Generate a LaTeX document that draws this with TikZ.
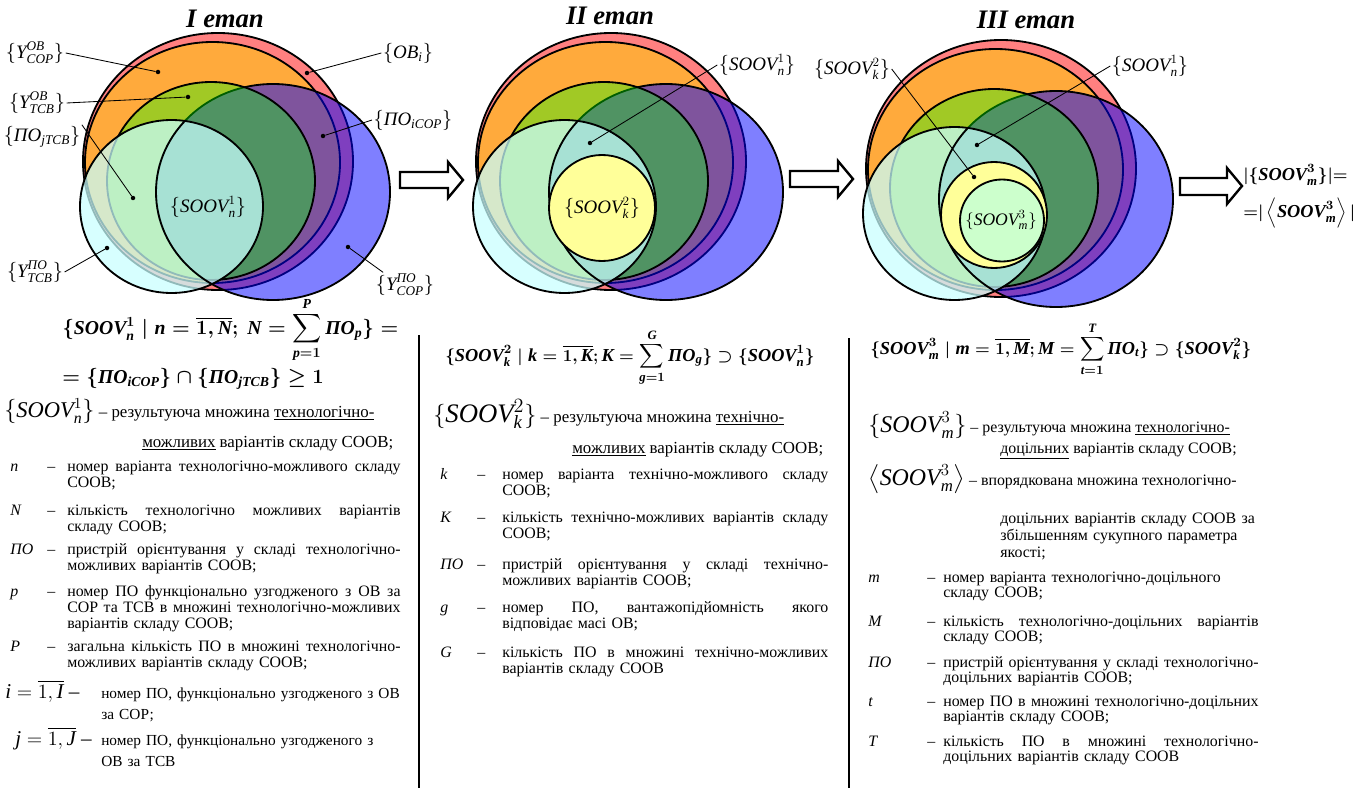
\documentclass[tikz,border=0pt]{standalone}
\usepackage{amsmath}
\usepackage{fontspec}
\setmainfont{Liberation Serif}

\definecolor{redset}{RGB}{255,128,128}
\definecolor{orangeset}{RGB}{255,170,60}
\definecolor{cyanset}{RGB}{200,255,255}
\definecolor{yellowset}{RGB}{255,255,153}
\definecolor{mintset}{RGB}{204,255,204}

\tikzset{
  venn/.style={draw=black, line width=1.3pt},
  setlbl/.style={inner sep=1pt, font=\fontsize{13.5}{15}\selectfont},
  lead/.style={line width=0.6pt},
  dotm/.style={circle, fill=black, inner sep=0pt, minimum size=3.2pt},
  blockarr/.style={draw=black, line width=1.7pt, fill=white, line join=miter},
  stage/.style={font=\fontsize{19}{22}\selectfont\bfseries\itshape},
  formula/.style={inner sep=0pt, font=\fontsize{13}{15}\selectfont\bfseries\boldmath},
  desc/.style={inner sep=0pt, font=\fontsize{12}{14}\selectfont},
  itemtxt/.style={inner sep=0pt, font=\fontsize{11.3}{11.7}\selectfont},
  itemtxtc/.style={inner sep=0pt, font=\fontsize{11.3}{11}\selectfont},
  colsep/.style={line width=1.4pt},
}

\newlength{\jlw}
\newcommand{\itv}[1]{\textit{#1}}
% a justified line, spaces spread to the row width
\newcommand{\jl}[1]{\leavevmode\hbox to\jlw{\spaceskip=0.25em plus 1fil\relax #1}\\}

% the common sets, local pixel coordinates
\newcommand{\vennbase}{%
  \draw[venn, fill=redset] (218,161.5) ellipse [x radius=135, y radius=128.5];
  \draw[venn, fill=orangeset] (212.5,162.5) ellipse [x radius=127.5, y radius=120.5];
  \draw[venn, fill=blue, fill opacity=0.5] (273,192) ellipse [x radius=117, y radius=108];
  \draw[venn, fill=green, fill opacity=0.37] (211,181) ellipse [x radius=104, y radius=99];
  \draw[venn, fill=cyanset, fill opacity=0.73] (171.5,206.5) ellipse [x radius=91.5, y radius=86.5];
  \begin{scope}
    \clip (171.5,206.5) ellipse [x radius=91.5, y radius=86.5];
    \draw[venn] (273,192) ellipse [x radius=117, y radius=108];
  \end{scope}
}

% one row of a legend: name, style, x symbol, x dash, x text, baseline, width, symbol, text
\newcommand{\entry}[9]{%
  \setlength{\jlw}{#7}%
  \node[#2, anchor=base west] (#1s) at (#3,#6) {#8};
  \node[#2, anchor=base west] (#1d) at (#4,#6) {–};
  \node[#2, anchor=base west, text width=#7] (#1t) at (#5,#6) {#9};
}

\begin{document}
\begin{tikzpicture}[x=0.025cm, y=-0.025cm]
\useasboundingbox (0,0) rectangle (1360,788);

% stage I
\vennbase
\node[stage] (titleI) at (225,19) {I етап};
\node[setlbl] (lsoovI) at (208,207) {$\{\itv{SOOV}^{1}_{\itv{n}}\}$};
\node[dotm] (pOrange) at (158,72) {};
\node[dotm] (pRed) at (307,73) {};
\node[dotm] (pGreen) at (188,97) {};
\node[dotm] (pPurple) at (323,136) {};
\node[dotm] (pMint) at (133,198) {};
\node[dotm] (pCyan) at (107,248) {};
\node[dotm] (pBlue) at (348,247) {};
\node[setlbl] (lYcopOB) at (35,53) {$\{\itv{Y}^{\itv{ОВ}}_{\itv{СОР}}\}$};
\node[setlbl] (lYtcbOB) at (37,103) {$\{\itv{Y}^{\itv{ОВ}}_{\itv{ТСВ}}\}$};
\node[setlbl] (lPOjtcb) at (42,137) {$\{\itv{ПО}_{\itv{jТСВ}}\}$};
\node[setlbl] (lOBi) at (408,53) {$\{\itv{ОВ}_{\itv{i}}\}$};
\node[setlbl] (lPOicop) at (413,120) {$\{\itv{ПО}_{\itv{iСОР}}\}$};
\node[setlbl] (lYtcbPO) at (35,272) {$\{\itv{Y}^{\itv{ПО}}_{\itv{ТСВ}}\}$};
\node[setlbl] (lYcopPO) at (405,285) {$\{\itv{Y}^{\itv{ПО}}_{\itv{СОР}}\}$};
\draw[lead] (lYcopOB.east) -- (pOrange);
\draw[lead] (lYtcbOB.east) -- (pGreen);
\draw[lead] (lPOjtcb.north east) -- (pMint);
\draw[lead] (lOBi.west) -- (pRed);
\draw[lead] (lPOicop.west) -- (pPurple);
\draw[lead] (lYtcbPO.east) -- (pCyan);
\draw[lead] (lYcopPO.150) -- (pBlue);

% stage II
\begin{scope}[shift={(393,0)}]
  \vennbase
  \draw[venn, fill=yellowset] (209,208) circle [radius=53];
\end{scope}
\node[stage] (titleII) at (610,16) {II етап};
\node[setlbl] (lsoovII) at (602,208) {$\{\itv{SOOV}^{2}_{\itv{k}}\}$};
\node[dotm] (pLensII) at (590,143) {};
\node[setlbl] (lsoovIIn) at (757,65) {$\{\itv{SOOV}^{1}_{\itv{n}}\}$};
\draw[lead] (lsoovIIn.west) -- (pLensII);

% stage III
\begin{scope}[shift={(783,7)}]
  \vennbase
  \draw[venn, fill=yellowset] (211,208) circle [radius=53];
  \draw[venn, fill=mintset] (219,213.5) ellipse [x radius=42, y radius=41];
\end{scope}
\node[stage] (titleIII) at (1026,20) {III етап};
\node[setlbl, font=\fontsize{12.5}{14}\selectfont] (lsoovIII) at (1001,220) {$\{\itv{SOOV}^{3}_{\itv{m}}\}$};
\node[dotm] (pYellowIII) at (974,177) {};
\node[dotm] (pLensIII) at (977,145) {};
\node[setlbl] (lsoovIIIk) at (852,69) {$\{\itv{SOOV}^{2}_{\itv{k}}\}$};
\node[setlbl] (lsoovIIIn) at (1150,66) {$\{\itv{SOOV}^{1}_{\itv{n}}\}$};
\draw[lead] (lsoovIIIk.east) -- (pYellowIII);
\draw[lead] (lsoovIIIn.west) -- (pLensIII);

% block arrows
\draw[blockarr] (400,172) -- (448,172) -- (448,162) -- (463,180) -- (448,198) -- (448,188) -- (400,188) -- cycle;
\draw[blockarr] (790,171) -- (838,171) -- (838,161) -- (853,179) -- (838,197) -- (838,187) -- (790,187) -- cycle;
\draw[blockarr] (1180,178) -- (1227,178) -- (1227,168) -- (1242,186) -- (1227,204) -- (1227,195) -- (1180,195) -- cycle;
\node[formula, anchor=west] (res1) at (1243,175) {$|\{\itv{SOOV}^{3}_{\itv{m}}\}|{=}$};
\node[formula, anchor=west] (res2) at (1243,213) {${=}|\left\langle\itv{SOOV}^{3}_{\itv{m}}\right\rangle|$};

% column separators
\draw[colsep] (419,335) -- (419,788);
\draw[colsep] (849,338) -- (849,788);

% column I
\node[formula, font=\fontsize{14}{16}\selectfont\bfseries\boldmath, anchor=base west] (formI) at (62,334)
  {$\{\itv{SOOV}^{1}_{\itv{n}} \mid \itv{n}=\overline{1,\itv{N}};\ \itv{N}=\displaystyle\sum_{\itv{p}=1}^{\itv{P}}\itv{ПО}_{\itv{p}}\}=$};
\node[formula, font=\fontsize{14}{16}\selectfont\bfseries\boldmath, anchor=base west] (formIb) at (62,383)
  {$=\{\itv{ПО}_{\itv{iСОР}}\}\cap\{\itv{ПО}_{\itv{jТСВ}}\}\geq 1$};
\node[desc, anchor=base west] (descIa) at (4,417)
  {{\fontsize{16}{18}\selectfont$\{\itv{SOOV}^{1}_{\itv{n}}\}$} – результуюча множина \underline{технологічно-}};
\node[desc, anchor=base west] (descIb) at (142,447) {\underline{можливих} варіантів складу СООВ;};
\entry{rn}{itemtxt}{10}{47}{67}{471}{8.33cm}{\itv{n}}{\jl{номер варіанта технологічно-можливого складу}СООВ;}
\entry{rN}{itemtxt}{10}{47}{67}{515}{8.33cm}{\itv{N}}{\jl{кількість технологічно можливих варіантів}складу СООВ;}
\entry{rPO}{itemtxt}{10}{47}{67}{554}{8.33cm}{\itv{ПО}}{\jl{пристрій орієнтування у складі технологічно-}можливих варіантів СООВ;}
\entry{rp}{itemtxt}{10}{47}{67}{596}{8.33cm}{\itv{p}}{\jl{номер ПО функціонально узгодженого з ОВ за}\jl{СОР та ТСВ в множині технологічно-можливих}варіантів складу СООВ;}
\entry{rP}{itemtxt}{10}{47}{67}{651}{8.33cm}{\itv{P}}{\jl{загальна кількість ПО в множині технологічно-}можливих варіантів складу СООВ;}
\node[desc, font=\fontsize{15}{17}\selectfont, anchor=base west] (ri) at (5,698) {$\itv{i}=\overline{1,\itv{I}}$ –};
\node[itemtxt, anchor=base west, text width=8cm, align=left, font=\fontsize{10.9}{15.6}\selectfont] (rit) at (101,698)
  {номер ПО, функціонально узгодженого з ОВ\\ за СОР;};
\node[desc, font=\fontsize{15}{17}\selectfont, anchor=base west] (rj) at (15,745) {$\itv{j}=\overline{1,\itv{J}}$ –};
\node[itemtxt, anchor=base west, text width=8cm, align=left, font=\fontsize{10.9}{15.6}\selectfont] (rjt) at (101,745)
  {номер ПО, функціонально узгодженого з\\ ОВ за ТСВ};

% column II
\node[formula, anchor=base west] (formII) at (445,361)
  {$\{\itv{SOOV}^{2}_{\itv{k}} \mid \itv{k}=\overline{1,\itv{K}};\itv{K}=\displaystyle\sum_{\itv{g}=1}^{\itv{G}}\itv{ПО}_{\itv{g}}\}\supset\{\itv{SOOV}^{1}_{\itv{n}}\}$};
\node[desc, anchor=base west] (descIIa) at (433,422)
  {{\fontsize{19}{21}\selectfont$\{\itv{SOOV}^{2}_{\itv{k}}\}$} – результуюча множина \underline{технічно-}};
\node[desc, anchor=base west] (descIIb) at (572,453) {\underline{можливих} варіантів складу СООВ;};
\entry{rk}{itemtxt}{440}{477}{502}{479}{8.15cm}{\itv{k}}{\jl{номер варіанта технічно-можливого складу}СООВ;}
\entry{rK}{itemtxt}{440}{477}{502}{522}{8.15cm}{\itv{K}}{\jl{кількість технічно-можливих варіантів складу}СООВ;}
\entry{rPOb}{itemtxt}{440}{477}{502}{569}{8.15cm}{\itv{ПО}}{\jl{пристрій орієнтування у складі технічно-}можливих варіантів СООВ;}
\entry{rg}{itemtxt}{440}{477}{502}{612}{8.15cm}{\itv{g}}{\jl{номер ПО, вантажопідйомність якого}відповідає масі ОВ;}
\entry{rG}{itemtxt}{440}{477}{502}{657}{8.15cm}{\itv{G}}{\jl{кількість ПО в множині технічно-можливих}варіантів складу СООВ}

% column III
\node[formula, anchor=base west] (formIII) at (870,354)
  {$\{\itv{SOOV}^{3}_{\itv{m}} \mid \itv{m}=\overline{1,\itv{M}};\itv{M}=\displaystyle\sum_{\itv{t}=1}^{\itv{T}}\itv{ПО}_{\itv{t}}\}\supset\{\itv{SOOV}^{2}_{\itv{k}}\}$};
\node[itemtxt, anchor=base west] (descIIIa) at (868,432)
  {{\fontsize{17}{19}\selectfont$\{\itv{SOOV}^{3}_{\itv{m}}\}$} – результуюча множина \underline{технологічно-}};
\node[itemtxt, anchor=base west] (descIIIb) at (1000,453) {\underline{доцільних} варіантів складу СООВ;};
\node[itemtxt, anchor=base west] (descIIIc) at (868,485)
  {{\fontsize{17}{19}\selectfont$\left\langle\itv{SOOV}^{3}_{\itv{m}}\right\rangle$} – впорядкована множина технологічно-};
\node[itemtxt, anchor=base west, text width=7cm, align=left, font=\fontsize{11.3}{12.4}\selectfont] (descIIId) at (1000,523)
  {доцільних варіантів складу СООВ за\\ збільшенням сукупного параметра\\ якості;};
\entry{rm}{itemtxtc}{868}{927}{943}{582}{7.88cm}{\itv{m}}{номер варіанта технологічно-доцільного\\ складу СООВ;}
\entry{rM}{itemtxtc}{868}{927}{943}{626}{7.88cm}{\itv{M}}{\jl{кількість технологічно-доцільних варіантів}складу СООВ;}
\entry{rPOc}{itemtxtc}{868}{927}{943}{667}{7.88cm}{\itv{ПО}}{\jl{пристрій орієнтування у складі технологічно-}доцільних варіантів СООВ;}
\entry{rt}{itemtxtc}{868}{927}{943}{706}{7.88cm}{\itv{t}}{\jl{номер ПО в множині технологічно-доцільних}варіантів складу СООВ;}
\entry{rT}{itemtxtc}{868}{927}{943}{746}{7.88cm}{\itv{T}}{\jl{кількість ПО в множині технологічно-}доцільних варіантів складу СООВ}
\end{tikzpicture}
\end{document}
